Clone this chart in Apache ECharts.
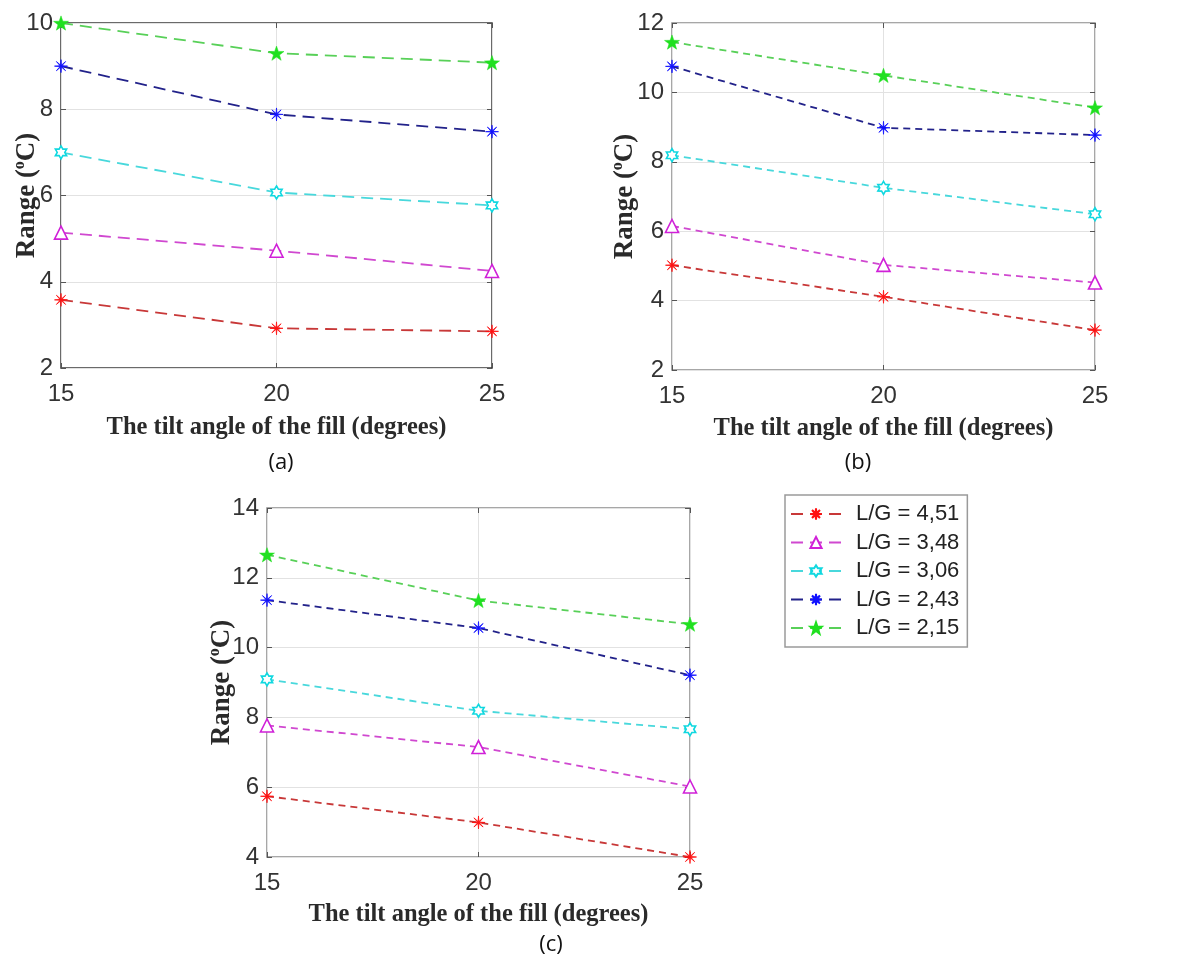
<!DOCTYPE html>
<html>
<head>
<meta charset="utf-8">
<title>Range vs tilt angle</title>
<script src="https://cdn.jsdelivr.net/npm/echarts@6/dist/echarts.min.js"></script>
<style>
  html, body { margin: 0; padding: 0; background: #fff; }
  #main { width: 1180px; height: 960px; }
</style>
</head>
<body>
<div id="main"></div>
<script>
// tilt angle of the fill (degrees)
var angles = [15, 20, 25];
var names = ['L/G = 4,51', 'L/G = 3,48', 'L/G = 3,06', 'L/G = 2,43', 'L/G = 2,15'];

// panel (a)
var a451 = [3.58, 2.92, 2.85];
var a348 = [5.14, 4.72, 4.25];
var a306 = [7.0, 6.07, 5.77];
var a243 = [9.0, 7.88, 7.48];
var a215 = [10.0, 9.3, 9.08];
// panel (b)
var b451 = [5.02, 4.11, 3.15];
var b348 = [6.15, 5.03, 4.52];
var b306 = [8.19, 7.25, 6.49];
var b243 = [10.75, 8.98, 8.77];
var b215 = [11.45, 10.49, 9.56];
// panel (c)
var c451 = [5.74, 4.99, 4.0];
var c348 = [7.77, 7.15, 6.02];
var c306 = [9.09, 8.19, 7.66];
var c243 = [11.36, 10.56, 9.21];
var c215 = [12.66, 11.35, 10.67];

var yMinA = 2, yMaxA = 10;
var yMinB = 2, yMaxB = 12;
var yMinC = 4, yMaxC = 14;

function star(n, rOut, rIn) {
  var d = '';
  for (var i = 0; i < 2 * n; i++) {
    var ang = -Math.PI / 2 + i * Math.PI / n;
    var r = i % 2 ? rIn : rOut;
    d += (i ? 'L' : 'M') + (r * Math.cos(ang)).toFixed(2) + ' ' + (r * Math.sin(ang)).toFixed(2) + ' ';
  }
  return 'path://' + d + 'Z';
}

var marks = [
  { symbol: star(8, 10, 1.6), size: 13, line: '#c83838', fill: '#ff1010', border: '#ff1010', bw: 0.8 },
  { symbol: 'triangle', size: 13, line: '#d048d0', fill: '#ffffff', border: '#d020d8', bw: 1.6 },
  { symbol: star(6, 10, 5.8), size: 13, line: '#48d8dc', fill: '#ffffff', border: '#10d8e0', bw: 1.6 },
  { symbol: star(8, 10, 1.6), size: 13, line: '#22228a', fill: '#1010ff', border: '#1010ff', bw: 0.8 },
  { symbol: star(5, 10, 4.0), size: 15, line: '#58d058', fill: '#20e020', border: '#20e020', bw: 0.5 }
];

var serif = "Liberation Serif";
var sans = "Liberation Sans";
var capFont = "Open Sans";

var grids = [
  { left: 61, top: 23, width: 431, height: 345, show: true, borderColor: '#3a3a3a', borderWidth: 1.5, backgroundColor: '#fff', outerBoundsMode: 'none' },
  { left: 672, top: 23, width: 423, height: 347, show: true, borderColor: '#8a8a8a', borderWidth: 1.5, backgroundColor: '#fff', outerBoundsMode: 'none' },
  { left: 267, top: 508, width: 423, height: 349, show: true, borderColor: '#8a8a8a', borderWidth: 1.5, backgroundColor: '#fff', outerBoundsMode: 'none' }
];

var xAxes = [], yAxes = [];
var yRanges = [[yMinA, yMaxA], [yMinB, yMaxB], [yMinC, yMaxC]];
var xNameGap = [47, 46, 45];
var yNameGap = [19, 32, 30];

for (var g = 0; g < 3; g++) {
  xAxes.push({
    type: 'value', gridIndex: g, min: 15, max: 25, interval: 5,
    axisLine: { show: false },
    axisTick: { inside: true, length: 5, lineStyle: { color: '#555' } },
    axisLabel: { fontFamily: sans, fontSize: 24, color: '#333', margin: 14 },
    splitLine: { lineStyle: { color: '#e2e2e2', width: 1 } },
    name: 'The tilt angle of the fill (degrees)', nameLocation: 'middle', nameGap: xNameGap[g],
    nameMoveOverlap: false,
    nameTextStyle: { fontFamily: serif, fontWeight: 'bold', fontSize: 24.5, color: '#2a2a2a' }
  });
  xAxes.push({
    type: 'value', gridIndex: g, position: 'top', min: 15, max: 25, interval: 5,
    axisLine: { show: false }, axisLabel: { show: false }, splitLine: { show: false },
    axisTick: { inside: true, length: 5, lineStyle: { color: '#555' } }
  });
  yAxes.push({
    type: 'value', gridIndex: g, min: yRanges[g][0], max: yRanges[g][1], interval: 2,
    axisLine: { show: false },
    axisTick: { inside: true, length: 5, lineStyle: { color: '#555' } },
    axisLabel: { fontFamily: sans, fontSize: 24, color: '#333', margin: 8 },
    splitLine: { lineStyle: { color: '#e2e2e2', width: 1 } },
    name: 'Range ({sup|o}C)', nameLocation: 'middle', nameGap: yNameGap[g],
    nameMoveOverlap: false,
    nameTextStyle: {
      fontFamily: serif, fontWeight: 'bold', fontSize: 27, color: '#2a2a2a',
      rich: { sup: { fontFamily: serif, fontWeight: 'bold', fontSize: 16, color: '#2a2a2a', verticalAlign: 'top', padding: [0, 0, 14, 0] } }
    }
  });
  yAxes.push({
    type: 'value', gridIndex: g, position: 'right', min: yRanges[g][0], max: yRanges[g][1], interval: 2,
    axisLine: { show: false }, axisLabel: { show: false }, splitLine: { show: false },
    axisTick: { inside: true, length: 5, lineStyle: { color: '#555' } }
  });
}

var panels = [
  { data: [a451, a348, a306, a243, a215], dash: [12, 7] },
  { data: [b451, b348, b306, b243, b215], dash: [7, 5] },
  { data: [c451, c348, c306, c243, c215], dash: [7, 5] }
];

var series = [];
panels.forEach(function (p, g) {
  p.data.forEach(function (vals, k) {
    var m = marks[k];
    series.push({
      name: names[k], type: 'line', xAxisIndex: g * 2, yAxisIndex: g * 2,
      data: angles.map(function (x, i) { return [x, vals[i]]; }),
      symbol: m.symbol, symbolSize: m.size, symbolKeepAspect: true,
      lineStyle: { color: m.line, width: 1.8, type: p.dash },
      itemStyle: { color: m.fill, borderColor: m.border, borderWidth: m.bw },
      emphasis: { disabled: true },
      animation: false, clip: false, z: 3 + k
    });
  });
});

var chart = echarts.init(document.getElementById('main'), null, { renderer: 'canvas' });
chart.setOption({
  backgroundColor: '#fff',
  animation: false,
  grid: grids,
  xAxis: xAxes,
  yAxis: yAxes,
  series: series,
  legend: {
    data: names, orient: 'vertical', left: 785, top: 495,
    padding: [8, 8, 8, 5], itemGap: 6.5, itemWidth: 50, itemHeight: 14, itemTextGap: 5,
    borderColor: '#9a9a9a', borderWidth: 1.5, backgroundColor: '#fff',
    textStyle: { fontFamily: sans, fontSize: 22, color: '#222', padding: [0, 0, 0, 10] },
    selectedMode: false
  },
  graphic: [
    { type: 'text', x: 281, y: 463, style: { text: '(a)', fontFamily: capFont, fontSize: 22, fill: '#111', align: 'center', verticalAlign: 'middle' } },
    { type: 'text', x: 858, y: 463, style: { text: '(b)', fontFamily: capFont, fontSize: 22, fill: '#111', align: 'center', verticalAlign: 'middle' } },
    { type: 'text', x: 551, y: 945, style: { text: '(c)', fontFamily: capFont, fontSize: 22, fill: '#111', align: 'center', verticalAlign: 'middle' } }
  ]
});
</script>
</body>
</html>
